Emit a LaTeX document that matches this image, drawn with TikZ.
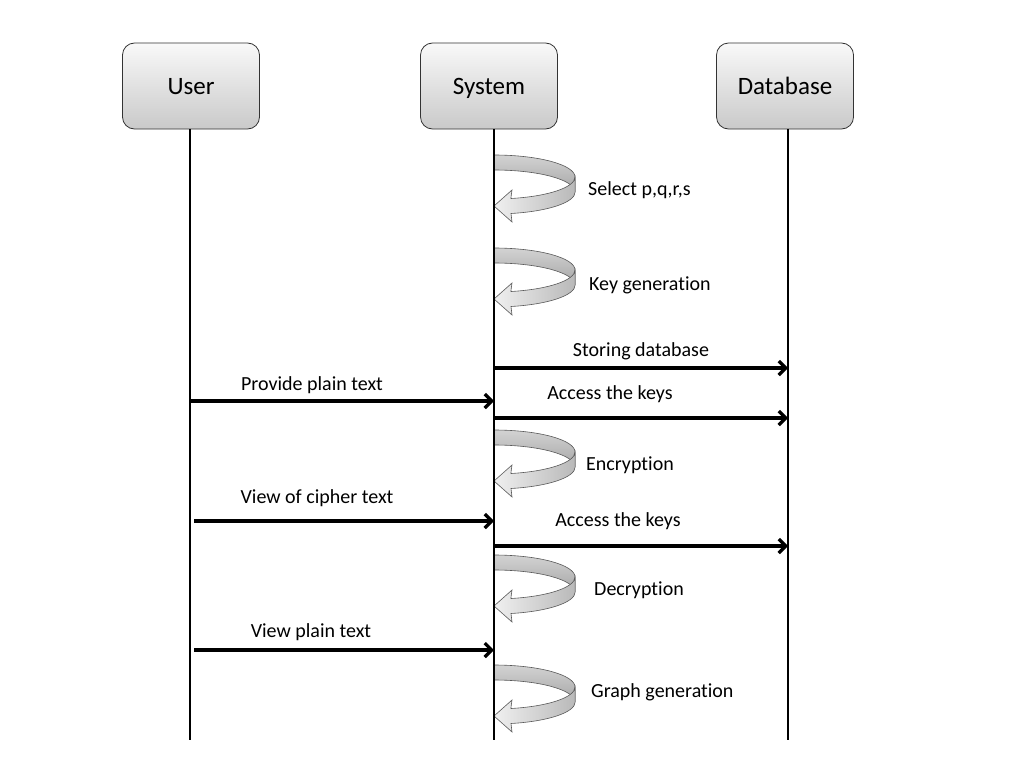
\documentclass[tikz,border=0pt]{standalone}
\usepackage{fontspec}
\setmainfont{Carlito}[Ligatures=NoCommon]
\usetikzlibrary{arrows.meta}

\tikzset{
	actor/.style={draw=black!80, line width=0.8pt, rounded corners=12pt, top color=gray!5, bottom color=gray!42, minimum width=137pt, minimum height=86pt, text height=20pt, text depth=4pt, font=\fontsize{25}{28}\selectfont},
	life/.style={line width=2.9pt},
	msg/.style={line width=3.2pt, -{Straight Barb[length=7pt,width=14pt]}},
	band/.style={draw=black!65, line width=0.6pt},
	lbl/.style={font=\fontsize{20}{23}\selectfont, inner sep=0pt},
}

\begin{document}
\begin{tikzpicture}[x=1pt,y=-1pt]
	\useasboundingbox (0,0) rectangle (1024,768);
	\def\xu{190}
	\def\xs{494}
	\def\xd{788}
	\def\R{81}
	\def\r{22}
	
	\node[actor] (user) at (191,86) {User};
	\node[actor] (system) at (489,86) {System};
	\node[actor] (db) at (785,86) {Database};
	
	% self calls on the system line
	\foreach \t/\lx/\ly/\txt [count=\i] in {155/588/190/{Select p,q,r,s}, 248/589/285/Key generation, 430/586/465/Encryption, 555/594/590/Decryption, 665/591/692/Graph generation} {
		\begin{scope}[shift={(\xs,\t)}]
			\draw[band, top color=gray!35, bottom color=gray!70]	(0,0) arc[start angle=-90, end angle=0, x radius=\R, y radius=\r] --++ (0,15) arc[start angle=0, end angle=-90, x radius=\R, y radius=\r] -- cycle;
			\draw[band, left color=gray!12, right color=gray!55]	(\R,\r) arc[start angle=0, end angle=78, x radius=\R, y radius=\r] -- (18,35) -- (0,51) -- (18,67) -- (17,58.5) arc[start angle=78, end angle=0, x radius=\R, y radius=\r] -- cycle;
		\end{scope}
		\node[lbl, anchor=west] (self\i) at (\lx,\ly) {\txt};
	}
	
	% lifelines
	\coordinate (user end) at (\xu,740);
	\coordinate (system end) at (\xs,740);
	\coordinate (db end) at (\xd,740);
	\draw[life]	(user.south -| user end) -- (user end);
	\draw[life]	(system.south -| system end) -- (system end);
	\draw[life]	(db.south -| db end) -- (db end);
	
	% messages
	\foreach \y/\xa/\xb/\lx/\ly/\txt [count=\i] in {368/\xs/\xd/641/351/Storing database, 401/\xu/\xs/312/385/Provide plain text, 418/\xs/\xd/610/394/Access the keys, 521/194/\xs/317/498/View of cipher text, 546/\xs/\xd/618/521/Access the keys, 650/194/\xs/311/632/View plain text} {
		\coordinate (from\i) at (\xa,\y);
		\coordinate (to\i) at (\xb,\y);
		\draw[msg]	(from\i) -- (to\i);
		\node[lbl] (msg\i) at (\lx,\ly) {\txt};
	}
\end{tikzpicture}
\end{document}
